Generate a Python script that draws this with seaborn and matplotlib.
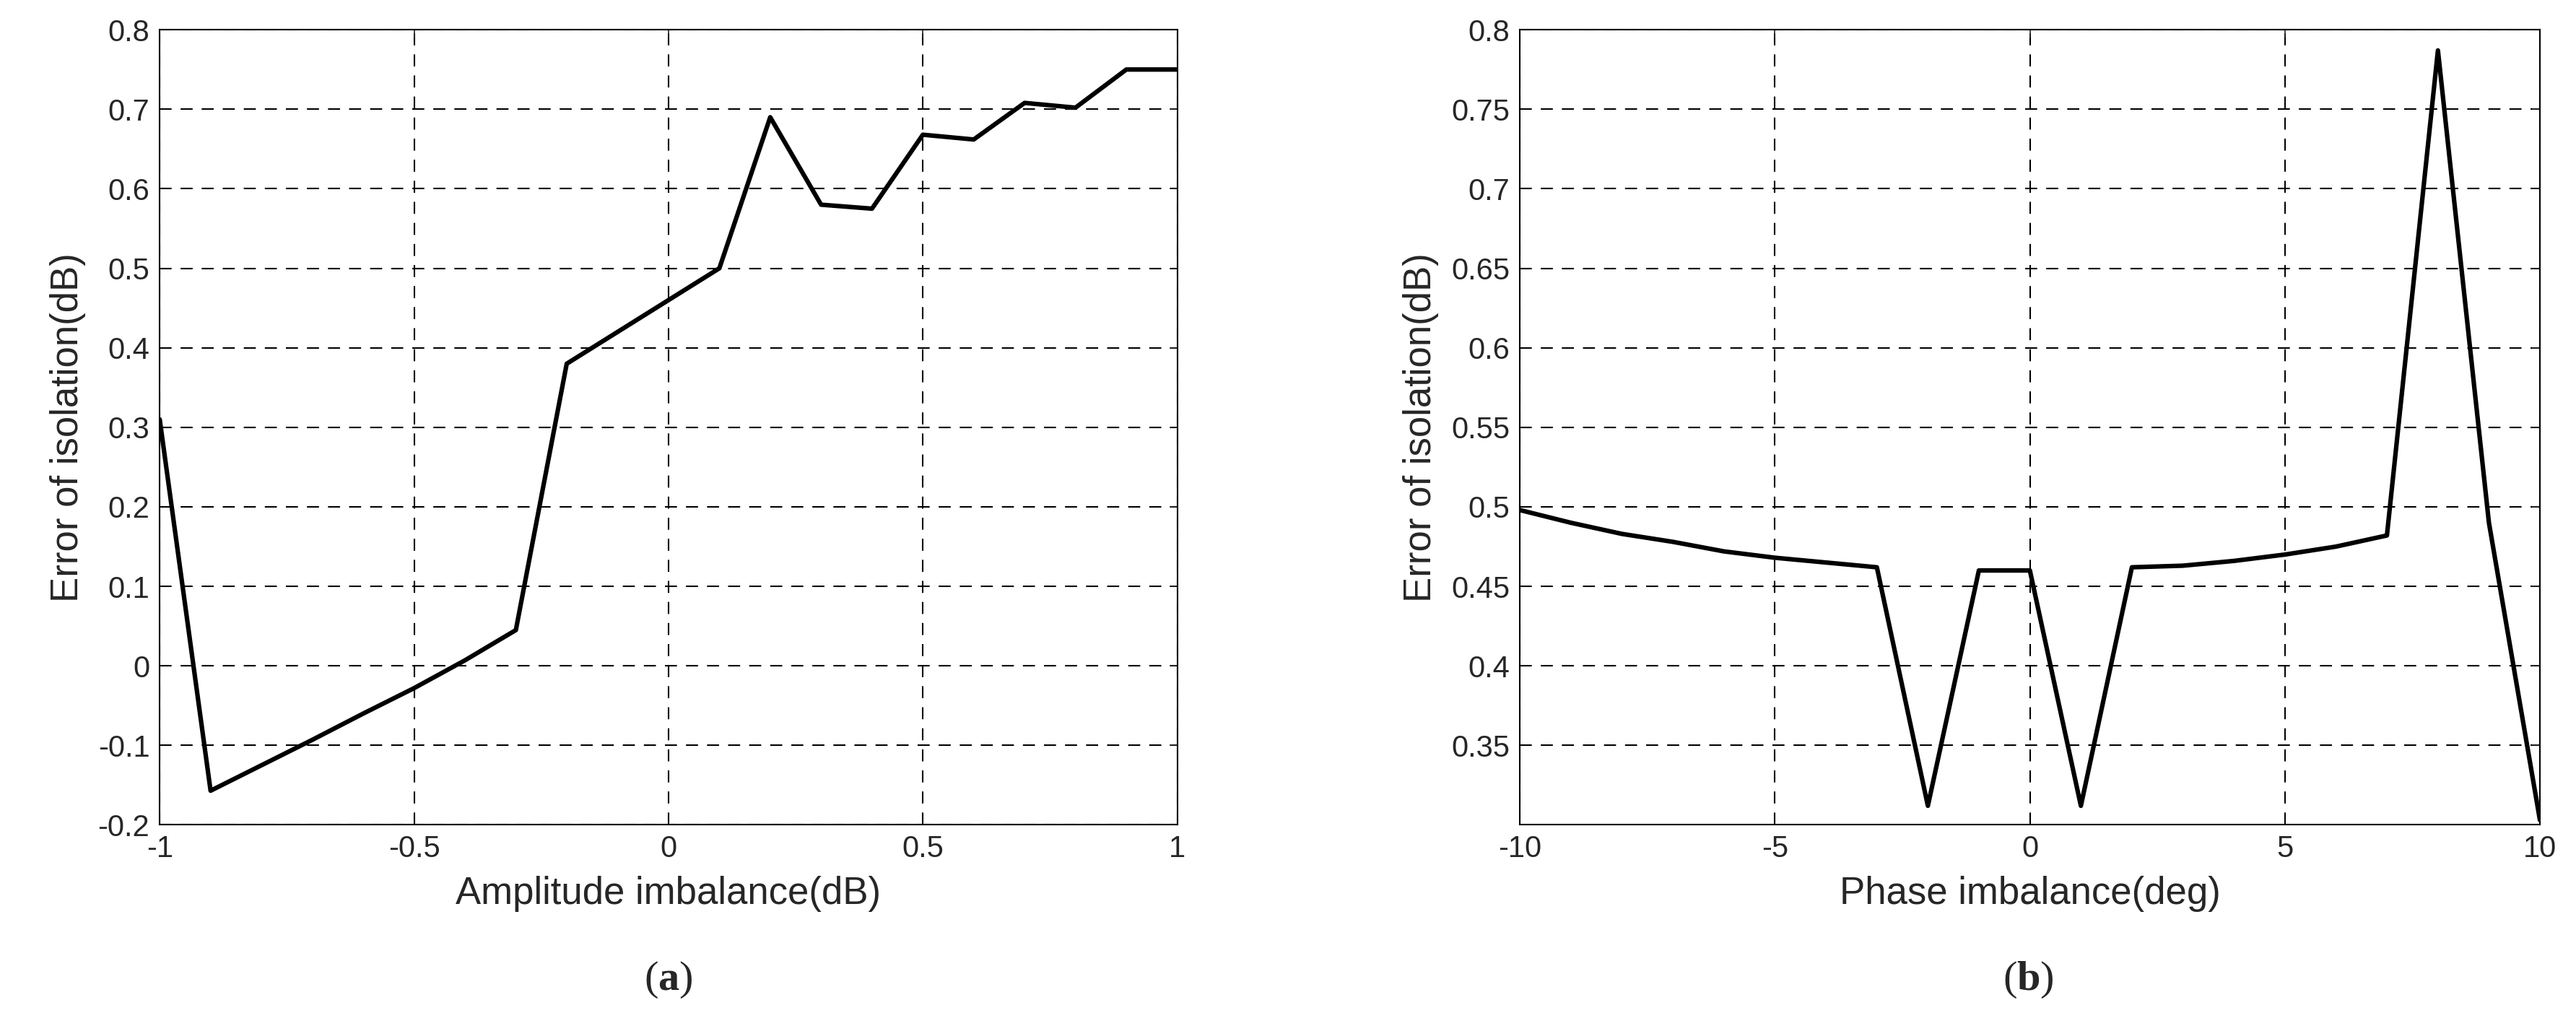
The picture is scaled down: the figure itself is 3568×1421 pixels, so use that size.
import matplotlib
matplotlib.use("Agg")
import matplotlib.pyplot as plt
import seaborn as sns
import numpy as np

amp_x = [-1,-0.9,-0.8,-0.7,-0.6,-0.5,-0.4,-0.3,-0.2,-0.1,0,0.1,0.2,0.3,0.4,0.5,0.6,0.7,0.8,0.9,1]
amp_y = [0.31,-0.157,-0.125,-0.093,-0.06,-0.028,0.007,0.045,0.38,0.42,0.46,0.50,0.69,0.58,0.575,0.668,0.662,0.708,0.702,0.75,0.75]
ph_x = list(range(-10,11))
ph_y = [0.498,0.49,0.483,0.478,0.472,0.468,0.465,0.462,0.312,0.46,0.46,0.312,0.462,0.463,0.466,0.47,0.475,0.482,0.787,0.49,0.303]

sns.set_style("white")
plt.rcParams['font.family'] = ['Liberation Sans', 'DejaVu Sans']
plt.rcParams['axes.unicode_minus'] = False
plt.rcParams['mathtext.fontset'] = 'custom'
plt.rcParams['mathtext.rm'] = 'Liberation Serif'
plt.rcParams['mathtext.bf'] = 'Liberation Serif:bold'

fig = plt.figure(figsize=(35.68, 14.21), dpi=100)
ax1 = fig.add_axes([0.062, 0.196, 0.395, 0.775])
ax2 = fig.add_axes([0.590, 0.196, 0.396, 0.775])

def style(ax, xt, yt, xl, xlabel):
    ax.set_xticks(xt); ax.set_yticks(yt)
    ax.set_xlim(*xl)
    ax.grid(True, color='black', linestyle=(0,(8,6)), linewidth=1.5)
    for s in ax.spines.values():
        s.set_color('black'); s.set_linewidth(1.5)
    ax.tick_params(labelsize=30, direction='in', length=8, width=1.2, top=True, right=True, pad=10)
    ax.set_xlabel(xlabel, fontsize=38, labelpad=12)
    ax.set_ylabel('Error of isolation(dB)', fontsize=38, labelpad=12)

sns.lineplot(x=amp_x, y=amp_y, ax=ax1, color='black', linewidth=4.5)
ax1.set_ylim(-0.2, 0.8)
style(ax1, [-1,-0.5,0,0.5,1], np.round(np.arange(-0.2,0.81,0.1),1), (-1,1), 'Amplitude imbalance(dB)')
ax1.set_xticklabels(['-1','-0.5','0','0.5','1'])
ax1.set_yticklabels(['-0.2','-0.1','0','0.1','0.2','0.3','0.4','0.5','0.6','0.7','0.8'])

sns.lineplot(x=ph_x, y=ph_y, ax=ax2, color='black', linewidth=4.5)
ax2.set_ylim(0.3, 0.8)
style(ax2, [-10,-5,0,5,10], np.round(np.arange(0.35,0.81,0.05),2), (-10,10), 'Phase imbalance(deg)')
ax2.set_xticklabels(['-10','-5','0','5','10'])
ax2.set_yticklabels(['0.35','0.4','0.45','0.5','0.55','0.6','0.65','0.7','0.75','0.8'])

fig.text(0.2595, 0.035, r'$\mathrm{(}\mathbf{a}\mathrm{)}$', fontsize=42, ha='center', va='baseline')
fig.text(0.7875, 0.035, r'$\mathrm{(}\mathbf{b}\mathrm{)}$', fontsize=42, ha='center', va='baseline')

fig.savefig('out.png', dpi=100, facecolor='white')
